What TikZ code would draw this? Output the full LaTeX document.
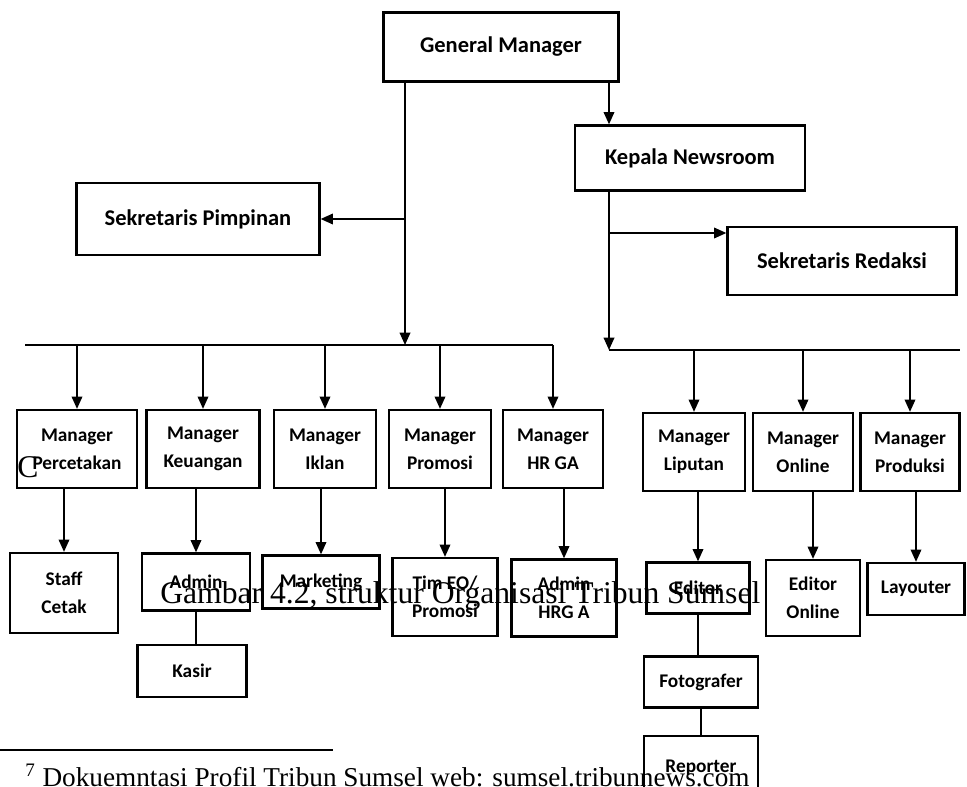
\documentclass[tikz,border=0pt]{standalone}
\usepackage{fontspec}
\setmainfont{Liberation Serif}
\newfontfamily\boxfont{Carlito}
\usetikzlibrary{arrows.meta, positioning}

\begin{document}
\begin{tikzpicture}[
        x=0.02cm, y=-0.02cm,
        % Kotak jabatan
        jabatan/.style={
                rectangle,
                draw=black,
                fill=white,
                line width=1.3pt,
                inner sep=0pt,
                align=center,
                font=\boxfont\bfseries\fontsize{11}{16}\selectfont
            },
        % Kotak pimpinan
        pimpinan/.style={
                jabatan,
                font=\boxfont\bfseries\fontsize{12.8}{16}\selectfont
            },
        % Kotak manajer
        manajer/.style={
                jabatan,
                minimum width=2.04cm,
                minimum height=1.56cm
            },
        % Garis penghubung
        garis/.style={
                line width=1pt,
                draw=black
            },
        % Panah
        panah/.style={
                garis,
                -{Triangle[width=6pt,length=7pt]}
            },
        % Teks halaman
        teks/.style={
                anchor=base west,
                inner sep=0pt,
                font=\fontsize{18}{22}\selectfont
            }
    ]

    \path[use as bounding box] (0,0) rectangle (967,787);
    \clip (0,0) rectangle (967,787);

    % Pimpinan
    \node[pimpinan, minimum width=4.7cm, minimum height=1.38cm] (gm) at (501,47) {General Manager};
    \node[pimpinan, minimum width=4.6cm, minimum height=1.3cm] (kepala) at (690,158) {Kepala Newsroom};
    \node[pimpinan, minimum width=4.86cm, minimum height=1.44cm] (sekpim) at (198,219) {Sekretaris Pimpinan};
    \node[pimpinan, minimum width=4.58cm, minimum height=1.36cm] (sekred) at (842,261) {Sekretaris Redaksi};

    % Titik cabang
    \coordinate (busL) at (405,345);
    \coordinate (busR) at (609,350);
    \coordinate (cabangR) at (609,233);
    \coordinate (ujungL) at (25,345);
    \coordinate (ujungR) at (960,350);

    % Manajer
    \node[manajer, minimum width=2.4cm] (mCetak) at (77,449) {Manager\\Percetakan};
    \node[manajer, minimum width=2.26cm] (mUang) at (203,449) {Manager\\Keuangan};
    \node[manajer] (mIklan) at (325,449) {Manager\\Iklan};
    \node[manajer] (mPromosi) at (440,449) {Manager\\Promosi};
    \node[manajer, minimum width=2cm] (mHR) at (553,449) {Manager\\HR GA};
    \node[manajer] (mLiputan) at (694,452) {Manager\\Liputan};
    \node[manajer, minimum width=2cm] (mOnline) at (803,452) {Manager\\Online};
    \node[manajer, minimum width=1.98cm] (mProduksi) at (910,452) {Manager\\Produksi};

    % Staf
    \node[jabatan, minimum width=2.16cm, minimum height=1.6cm] (staf) at (64,593) {Staff\\Cetak};
    \node[jabatan, minimum width=2.16cm, minimum height=1.14cm] (admin) at (196,582) {Admin};
    \node[jabatan, minimum width=2.18cm, minimum height=1.04cm] (kasir) at (192,671) {Kasir};
    \node[jabatan, minimum width=2.34cm, minimum height=1.06cm] (marketing) at (321,582) {Marketing};
    \node[jabatan, minimum width=2.1cm, minimum height=1.56cm] (timeo) at (445,597) {Tim EO/\\Promosi};
    \node[jabatan, minimum width=2.1cm, minimum height=1.54cm] (adminhr) at (564,598) {Admin\\HRG A};
    \node[jabatan, minimum width=2.06cm, minimum height=1.02cm] (editor) at (698,588) {Editor};
    \node[jabatan, minimum width=2.28cm, minimum height=1.02cm] (foto) at (701,682) {Fotografer};
    \node[jabatan, minimum width=2.28cm, minimum height=1.28cm] (reporter) at (701,768) {Reporter};
    \node[jabatan, minimum width=1.88cm, minimum height=1.52cm] (edonline) at (813,598) {Editor\\Online};
    \node[jabatan, minimum width=1.94cm, minimum height=1.04cm] (layouter) at (916,589) {Layouter};

    % Garis dari pimpinan
    \draw[panah] (gm.south -| busL) -- (busL);
    \draw[panah] (busL |- sekpim.east) -- (sekpim.east);
    \draw[panah] (gm.south -| busR) -- (kepala.north -| busR);
    \draw[panah] (kepala.south -| busR) -- (busR);
    \draw[panah] (cabangR) -- (cabangR -| sekred.west);

    % Garis horizontal
    \draw[garis, line width=1.2pt] (ujungL) -- (ujungL -| mHR.north);
    \draw[garis, line width=1.2pt] (busR) -- (ujungR);

    % Panah ke manajer
    \draw[panah] (busL -| mCetak.north) -- (mCetak.north);
    \draw[panah] (busL -| mUang.north) -- (mUang.north);
    \draw[panah] (busL -| mIklan.north) -- (mIklan.north);
    \draw[panah] (busL -| mPromosi.north) -- (mPromosi.north);
    \draw[panah] (busL -| mHR.north) -- (mHR.north);
    \draw[panah] (busR -| mLiputan.north) -- (mLiputan.north);
    \draw[panah] (busR -| mOnline.north) -- (mOnline.north);
    \draw[panah] (busR -| mProduksi.north) -- (mProduksi.north);

    % Panah ke staf
    \draw[panah] (mCetak.south -| staf.north) -- (staf.north);
    \draw[panah] (mUang.south -| admin.north) -- (admin.north);
    \draw[panah] (mIklan.south -| marketing.north) -- (marketing.north);
    \draw[panah] (mPromosi.south -| timeo.north) -- (timeo.north);
    \draw[panah] (mHR.south -| adminhr.north) -- (adminhr.north);
    \draw[panah] (mLiputan.south -| editor.north) -- (editor.north);
    \draw[panah] (mOnline.south -| edonline.north) -- (edonline.north);
    \draw[panah] (mProduksi.south -| layouter.north) -- (layouter.north);

    % Garis tanpa panah
    \draw[garis] (admin.south) -- (admin.south |- kasir.north);
    \draw[garis] (editor.south) -- (editor.south |- foto.north);
    \draw[garis] (foto.south) -- (foto.south |- reporter.north);

    % Teks halaman
    \node[teks] (hurufc) at (17,477) {C};
    \node[teks] (judul) at (160,603) {Gambar 4.2, struktur Organisasi Tribun Sumsel};
    \draw[line width=1pt] (0,750) -- (333,750);
    \node[teks, font=\fontsize{15.5}{18}\selectfont] (catatan) at (25,786) {\textsuperscript{7} Dokuemntasi Profil Tribun Sumsel web: sumsel.tribunnews.com};

\end{tikzpicture}
\end{document}
